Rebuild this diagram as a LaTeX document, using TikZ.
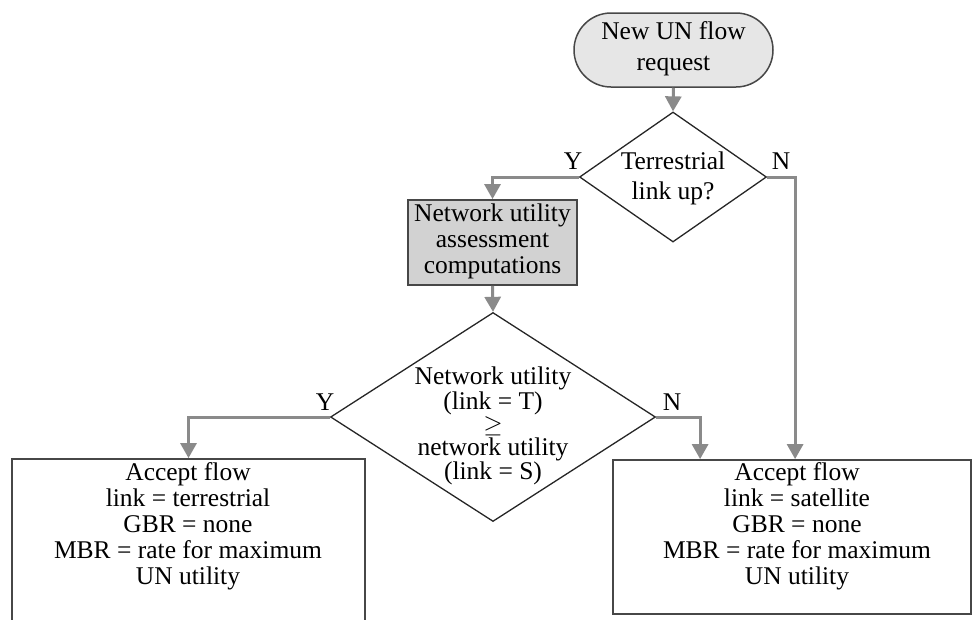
\documentclass[tikz,border=0pt]{standalone}
\usepackage{fontspec}
\setmainfont{Liberation Serif}
\usetikzlibrary{shapes.geometric,arrows.meta}
\definecolor{connc}{HTML}{8A8A8A}
\definecolor{edgec}{HTML}{474747}
\definecolor{startfill}{HTML}{E6E6E6}
\definecolor{procfill}{HTML}{D2D2D2}
\begin{document}
\begin{tikzpicture}[x=1pt,y=-1pt,
  txt/.style={align=center,inner sep=0pt,text=black,
    font=\fontsize{25.5}{26}\selectfont},
  lbl/.style={inner sep=0pt,font=\fontsize{25.5}{26}\selectfont},
  conn/.style={draw=connc,line width=3pt,
    -{Triangle[length=15pt,width=16pt]}},
  startbox/.style={draw=edgec,line width=1.5pt,fill=startfill,
    rounded corners=37pt,minimum width=199pt,minimum height=74pt,inner sep=0pt},
  procbox/.style={draw=edgec,line width=1.8pt,fill=procfill,
    minimum width=169pt,minimum height=85pt,inner sep=0pt},
  decision/.style={diamond,draw=black!85,line width=1.3pt,inner sep=0pt},
  outbox/.style={draw=edgec,line width=1.8pt,fill=white,inner sep=0pt}
]
\useasboundingbox (0,0) rectangle (972,619);

% start terminal
\node[startbox] (start) at (673.5,50) {};
\node[txt,font=\fontsize{25.5}{31}\selectfont] (starttxt) at (673.5,49)
  {New UN flow\\request};

% first decision
\node[decision,minimum width=187pt,minimum height=130pt] (d1) at (673,177) {};
\node[txt,font=\fontsize{25.5}{30}\selectfont] (d1txt) at (673,178)
  {Terrestrial\\link up?};

% assessment process
\node[procbox] (nua) at (492.5,242.5) {};
\node[txt] (nuatxt) at (492.5,241)
  {Network utility\\assessment\\computations};

% second decision
\node[decision,minimum width=325pt,minimum height=209pt] (d2) at (493,417) {};
\node[txt,font=\fontsize{25.5}{23}\selectfont] (d2txt) at (493,426)
  {Network utility\\(link = T)\\$\geq$\\network utility\\(link = S)};

% outcomes
\node[outbox,minimum width=353pt,minimum height=190pt] (acceptT) at (188.5,554) {};
\node[txt] (acceptTtxt) at (188,526)
  {Accept flow\\link = terrestrial\\GBR = none\\MBR = rate for maximum\\UN utility};

\node[outbox,minimum width=358pt,minimum height=154pt] (acceptS) at (792,537) {};
\node[txt] (acceptStxt) at (797,526)
  {Accept flow\\link = satellite\\GBR = none\\MBR = rate for maximum\\UN utility};

% connectors
\draw[conn] (start.south) -- (d1.north);
\draw[conn] (d1.west) -| (nua.north);
\draw[conn] (nua.south) -- (d2.north);
\draw[conn] (d2.west) -| (acceptT.north);
\draw[conn] (d2.east) -| ([xshift=88pt]acceptS.north west);
\draw[conn] (d1.east) -| ([xshift=183pt]acceptS.north west);

% branch labels
\node[lbl] (y1) at (573,161) {Y};
\node[lbl] (n1) at (781,161) {N};
\node[lbl] (y2) at (325,402) {Y};
\node[lbl] (n2) at (672,402) {N};
\end{tikzpicture}
\end{document}
